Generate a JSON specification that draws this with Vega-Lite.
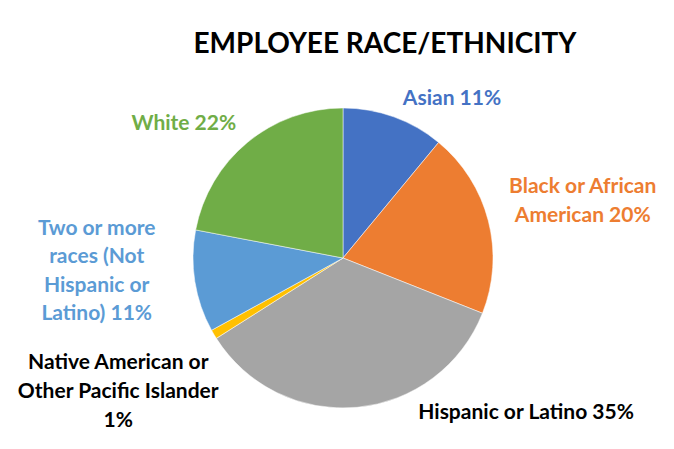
{
  "$schema": "https://vega.github.io/schema/vega-lite/v6.json",
  "width": 662,
  "height": 382,
  "autosize": {"type": "none"},
  "padding": {"left": 12, "top": 67, "right": 0, "bottom": 0},
  "background": "white",
  "title": {
    "text": "EMPLOYEE RACE/ETHNICITY",
    "font": "Lato",
    "fontWeight": "bold",
    "fontSize": 28,
    "color": "#000000",
    "anchor": "middle",
    "frame": "group",
    "dx": 42,
    "offset": 8
  },
  "config": {"view": {"stroke": null}},
  "data": {
    "values": [
      {"order": 1, "cat": "Asian", "pct": 11, "label": "Asian 11%"},
      {"order": 2, "cat": "Black or African American", "pct": 20, "label": "Black or African\nAmerican 20%"},
      {"order": 3, "cat": "Hispanic or Latino", "pct": 35, "label": "Hispanic or Latino 35%"},
      {"order": 4, "cat": "Native American or Other Pacific Islander", "pct": 1, "label": "Native American or\nOther Pacific Islander\n1%"},
      {"order": 5, "cat": "Two or more races (Not Hispanic or Latino)", "pct": 11, "label": "Two or more\nraces (Not\nHispanic or\nLatino) 11%"},
      {"order": 6, "cat": "White", "pct": 22, "label": "White 22%"}
    ]
  },
  "transform": [
    {"stack": "pct", "groupby": [], "sort": [{"field": "order", "order": "ascending"}], "as": ["start", "end"]}
  ],
  "layer": [
    {
      "mark": {"type": "arc", "outerRadius": 150, "stroke": "white", "strokeWidth": 0.5},
      "encoding": {
        "theta": {"field": "start", "type": "quantitative", "stack": null, "scale": {"domain": [0, 100]}},
        "theta2": {"field": "end"},
        "color": {
          "field": "cat",
          "type": "nominal",
          "scale": {
            "domain": ["Asian", "Black or African American", "Hispanic or Latino", "Native American or Other Pacific Islander", "Two or more races (Not Hispanic or Latino)", "White"],
            "range": ["#4472C4", "#ED7D31", "#A5A5A5", "#FFC000", "#5B9BD5", "#70AD47"]
          },
          "legend": null
        }
      }
    },
    {
      "transform": [{"filter": "datum.cat === 'Asian'"}],
      "mark": {"type": "text", "font": "Lato", "fontWeight": "bold", "fontSize": 21, "lineBreak": "\n", "lineHeight": 29, "align": "center", "baseline": "middle", "radius": 193, "thetaOffset": 0.600, "color": "#4472C4"},
      "encoding": {"theta": {"field": "start", "type": "quantitative", "stack": null}, "text": {"field": "label"}}
    },
    {
      "transform": [{"filter": "datum.cat === 'Black or African American'"}],
      "mark": {"type": "text", "font": "Lato", "fontWeight": "bold", "fontSize": 21, "lineBreak": "\n", "lineHeight": 29, "align": "center", "baseline": "middle", "radius": 250, "thetaOffset": 0.592, "color": "#ED7D31"},
      "encoding": {"theta": {"field": "start", "type": "quantitative", "stack": null}, "text": {"field": "label"}}
    },
    {
      "transform": [{"filter": "datum.cat === 'Hispanic or Latino'"}],
      "mark": {"type": "text", "font": "Lato", "fontWeight": "bold", "fontSize": 21, "lineBreak": "\n", "lineHeight": 29, "align": "center", "baseline": "middle", "radius": 240, "thetaOffset": 0.326, "color": "#000000"},
      "encoding": {"theta": {"field": "start", "type": "quantitative", "stack": null}, "text": {"field": "label"}}
    },
    {
      "transform": [{"filter": "datum.cat === 'Native American or Other Pacific Islander'"}],
      "mark": {"type": "text", "font": "Lato", "fontWeight": "bold", "fontSize": 21, "lineBreak": "\n", "lineHeight": 29, "align": "center", "baseline": "middle", "radius": 248, "thetaOffset": 0.129, "color": "#000000"},
      "encoding": {"theta": {"field": "start", "type": "quantitative", "stack": null}, "text": {"field": "label"}}
    },
    {
      "transform": [{"filter": "datum.cat === 'Two or more races (Not Hispanic or Latino)'"}],
      "mark": {"type": "text", "font": "Lato", "fontWeight": "bold", "fontSize": 21, "lineBreak": "\n", "lineHeight": 28.5, "align": "center", "baseline": "middle", "radius": 248, "thetaOffset": 0.620, "color": "#5B9BD5"},
      "encoding": {"theta": {"field": "start", "type": "quantitative", "stack": null}, "text": {"field": "label"}}
    },
    {
      "transform": [{"filter": "datum.cat === 'White'"}],
      "mark": {"type": "text", "font": "Lato", "fontWeight": "bold", "fontSize": 21, "lineBreak": "\n", "lineHeight": 29, "align": "center", "baseline": "middle", "radius": 208, "thetaOffset": 0.511, "color": "#70AD47"},
      "encoding": {"theta": {"field": "start", "type": "quantitative", "stack": null}, "text": {"field": "label"}}
    }
  ]
}
